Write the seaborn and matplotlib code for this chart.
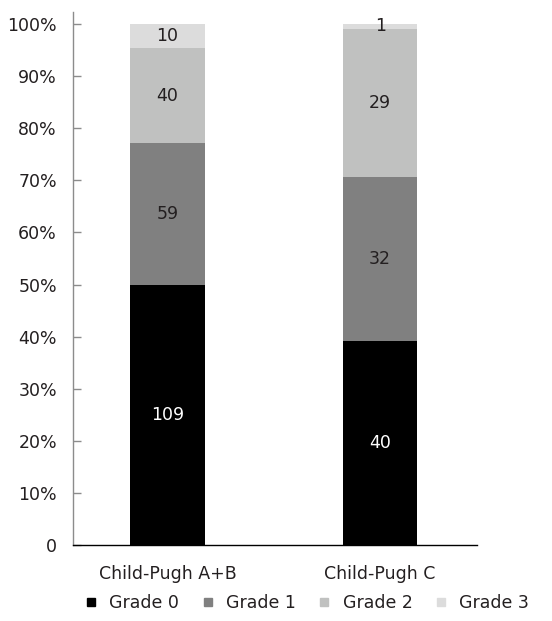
import numpy as np
import pandas as pd
import matplotlib
matplotlib.use("Agg")
import matplotlib.pyplot as plt
from matplotlib.lines import Line2D
import seaborn as sns

# counts per grade for each Child-Pugh group
groups = ["Child-Pugh A+B", "Child-Pugh C"]
grades = ["Grade 0", "Grade 1", "Grade 2", "Grade 3"]
grade0 = [109, 40]
grade1 = [59, 32]
grade2 = [40, 29]
grade3 = [10, 1]

colors = ["#000000", "#808080", "#c0c1c0", "#dcdcdc"]
text_colors = ["white", "#231f20", "#231f20", "#231f20"]
ink = "#231f20"

counts = pd.DataFrame({"group": groups, "Grade 0": grade0, "Grade 1": grade1,
                       "Grade 2": grade2, "Grade 3": grade3})
totals = counts[grades].sum(axis=1)
pct = counts[grades].div(totals, axis=0) * 100
cum = pct.cumsum(axis=1)

sns.set_style("white")
plt.rcParams["font.family"] = ["DejaVu Sans"]

fig = plt.figure(figsize=(5.52, 6.21), dpi=100)
ax = fig.add_axes([0.132, 0.122, 0.732, 0.859])

# stacked bars: draw cumulative tops from the last grade down
for i in reversed(range(len(grades))):
    df = pd.DataFrame({"group": groups, "top": cum[grades[i]].values})
    sns.barplot(data=df, x="group", y="top", color=colors[i], width=0.35,
                saturation=1, ax=ax, linewidth=0)

# segment labels at segment centres
for j, g in enumerate(groups):
    bottom = 0
    for i, gr in enumerate(grades):
        h = pct.loc[j, gr]
        ax.text(j, bottom + h / 2, str(counts.loc[j, gr]), ha="center", va="center",
                color=text_colors[i], fontsize=12.5)
        bottom += h

ax.set_xlim(-0.445, 1.455)
ax.set_ylim(0, 102.3)
ax.set_yticks(np.arange(0, 101, 10))
ax.set_yticklabels(["0"] + [f"{v}%" for v in range(10, 101, 10)])
ax.set_xlabel("")
ax.set_ylabel("")

for s in ["top", "right"]:
    ax.spines[s].set_visible(False)
ax.spines["left"].set_color("#8c8c8c")
ax.spines["bottom"].set_color("#000000")
ax.spines["left"].set_linewidth(1)
ax.spines["bottom"].set_linewidth(1)

ax.tick_params(axis="y", direction="in", length=6, width=1, color="#8c8c8c",
               labelsize=12.5, labelcolor=ink, pad=11.5, left=True)
ax.tick_params(axis="x", length=0, labelsize=12.5, labelcolor=ink, pad=14)

handles = [Line2D([0], [0], marker="s", color="none", markerfacecolor=c,
                  markeredgecolor=c, markersize=5.5) for c in colors]
fig.legend(handles, grades, loc="center", bbox_to_anchor=(0.556, 0.029), ncol=4,
           frameon=False, fontsize=12.5, handlelength=0.7, handletextpad=0.7,
           columnspacing=1.3, labelcolor=ink)

fig.savefig("out.png", dpi=100, facecolor="white")
